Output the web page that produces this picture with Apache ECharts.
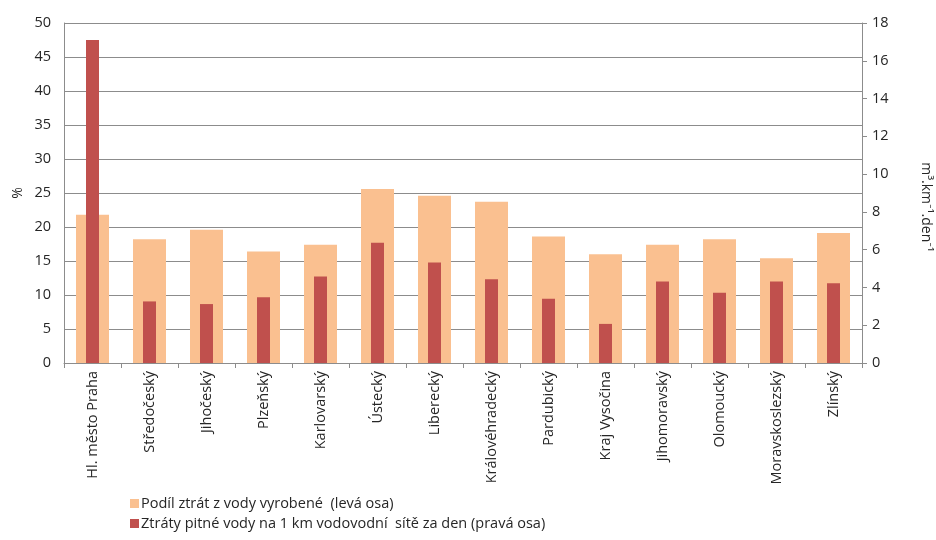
<!DOCTYPE html>
<html>
<head>
<meta charset="utf-8">
<style>
  html, body { margin: 0; padding: 0; background: #ffffff; }
  #chart { width: 936px; height: 540px; }
</style>
<script src="https://cdn.jsdelivr.net/npm/echarts@6/dist/echarts.min.js"></script>
</head>
<body>
<div id="chart"></div>
<script>
// Regions of the Czech Republic
const regions = [
  'Hl. město Praha', 'Středočeský', 'Jihočeský', 'Plzeňský', 'Karlovarský',
  'Ústecký', 'Liberecký', 'Královéhradecký', 'Pardubický', 'Kraj Vysočina',
  'Jihomoravský', 'Olomoucký', 'Moravskoslezský', 'Zlínský'
];

// Share of losses in produced water, % (left axis)
const lossShare = [21.8, 18.2, 19.6, 16.4, 17.4, 25.6, 24.6, 23.7, 18.6, 16.0, 17.4, 18.2, 15.4, 19.1];

// Drinking water losses per 1 km of network per day, m3/km/day (right axis)
const lossPerKm = [17.1, 3.26, 3.12, 3.48, 4.58, 6.36, 5.32, 4.44, 3.40, 2.07, 4.31, 3.72, 4.31, 4.22];

const seriesNames = [
  'Podíl ztrát z vody vyrobené  (levá osa)',
  'Ztráty pitné vody na 1 km vodovodní  sítě za den (pravá osa)'
];

const FONT = '"Open Sans", Lato, sans-serif';
const TEXT = '#262626';
const LINE = '#8c8c8c';

const chart = echarts.init(document.getElementById('chart'), null, { renderer: 'canvas' });

chart.setOption({
  animation: false,
  backgroundColor: '#ffffff',
  textStyle: { fontFamily: FONT },
  grid: {
    left: 64, right: 74, top: 23, bottom: 177,
    containLabel: false,
    outerBoundsMode: 'none'
  },
  legend: {
    orient: 'vertical',
    left: 130,
    top: 496,
    height: 44,
    padding: 0,
    itemWidth: 9,
    itemHeight: 9,
    itemGap: 5,
    icon: 'rect',
    textStyle: { fontFamily: FONT, fontSize: 14.5, color: TEXT, padding: [0, 0, 0, -3] },
    data: seriesNames
  },
  xAxis: [
    {
      type: 'category',
      data: regions,
      boundaryGap: true,
      axisLine: { lineStyle: { color: LINE, width: 1 } },
      axisTick: { show: true, length: 5, lineStyle: { color: LINE } },
      axisLabel: {
        rotate: 90,
        interval: 0,
        margin: 8,
        fontFamily: FONT,
        fontSize: 14.5,
        color: TEXT
      }
    },
    {
      type: 'category',
      data: regions,
      show: false
    }
  ],
  yAxis: [
    {
      type: 'value',
      min: 0,
      max: 50,
      interval: 5,
      name: '%',
      nameLocation: 'middle',
      nameRotate: 90,
      nameGap: 39,
      nameMoveOverlap: false,
      nameTextStyle: { fontFamily: FONT, fontSize: 14, color: TEXT },
      axisLine: { show: true, lineStyle: { color: LINE, width: 1 } },
      axisTick: { show: false },
      axisLabel: { fontFamily: FONT, fontSize: 14.5, color: TEXT, margin: 13 },
      splitLine: { show: true, lineStyle: { color: LINE, width: 1 } }
    },
    {
      type: 'value',
      min: 0,
      max: 18,
      interval: 2,
      position: 'right',
      name: 'm³.km⁻¹.den⁻¹',
      nameLocation: 'middle',
      nameRotate: -90,
      nameGap: 57,
      nameMoveOverlap: false,
      nameTextStyle: { fontFamily: FONT, fontSize: 14, color: TEXT, padding: [0, 0, 0, 28] },
      axisLine: { show: true, lineStyle: { color: LINE, width: 1 } },
      axisTick: { show: true, length: 5, inside: false, lineStyle: { color: LINE } },
      axisLabel: { fontFamily: FONT, fontSize: 14.5, color: TEXT, margin: 10 },
      splitLine: { show: false }
    }
  ],
  series: [
    {
      name: seriesNames[0],
      type: 'bar',
      xAxisIndex: 0,
      yAxisIndex: 0,
      barWidth: 33,
      itemStyle: { color: '#FAC090' },
      data: lossShare
    },
    {
      name: seriesNames[1],
      type: 'bar',
      xAxisIndex: 1,
      yAxisIndex: 1,
      barWidth: 13,
      itemStyle: { color: '#C0504D' },
      data: lossPerKm
    }
  ]
});
</script>
</body>
</html>
